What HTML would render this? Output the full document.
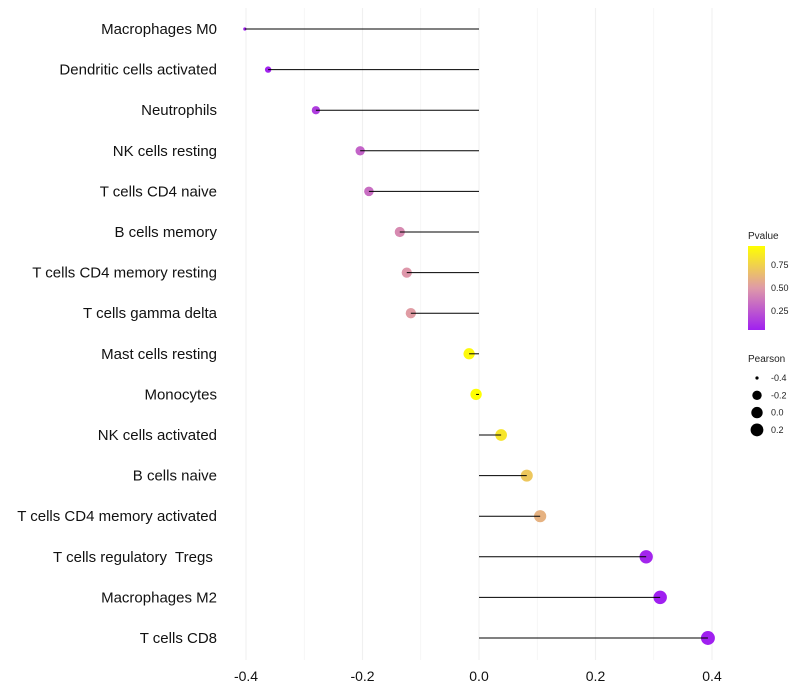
<!DOCTYPE html>
<html><head><meta charset="utf-8"><style>body{margin:0;background:#fff}svg{display:block;font-family:"Liberation Sans",sans-serif}text{white-space:pre}</style></head>
<body>
<svg id="c" width="800" height="700">
<defs><linearGradient id="pg" x1="0" y1="1" x2="0" y2="0"><stop offset="0" stop-color="#a020f0"/><stop offset="0.5" stop-color="#df9aa8"/><stop offset="1" stop-color="#ffff00"/></linearGradient></defs>
<g id="grid"></g><g id="pts"></g><g id="marks"></g><g id="axes"></g>
<g font-size="9" fill="#222">
<text x="748" y="239" font-size="10">Pvalue</text>
<rect x="748" y="246" width="17" height="84" fill="url(#pg)"/>
<text x="771" y="268">0.75</text>
<text x="771" y="291">0.50</text>
<text x="771" y="314">0.25</text>
<text x="748" y="362" font-size="10">Pearson</text>
<g id="sizeleg"></g>
</g>
</svg>
<script>
const cells=["Macrophages M0","Dendritic cells activated","Neutrophils","NK cells resting","T cells CD4 naive","B cells memory","T cells CD4 memory resting","T cells gamma delta","Mast cells resting","Monocytes","NK cells activated","B cells naive","T cells CD4 memory activated","T cells regulatory  Tregs ","Macrophages M2","T cells CD8"];
const pearson=[-0.402,-0.362,-0.280,-0.204,-0.189,-0.136,-0.124,-0.117,-0.017,-0.005,0.038,0.082,0.105,0.287,0.311,0.393];
const pvalue=[0.03,0.05,0.15,0.30,0.34,0.45,0.50,0.52,0.95,0.99,0.86,0.72,0.62,0.06,0.04,0.02];
const xticks=[-0.4,-0.2,0,0.2,0.4];
const xminor=[-0.3,-0.1,0.1,0.3];
const sizeLeg=[-0.4,-0.2,0.0,0.2];
const NS="http://www.w3.org/2000/svg";
const X=v=>479+v*582.5, Y=i=>29+i*40.6, R=v=>1.6+5.4*Math.pow(Math.max(0,(v+0.4)/0.8),0.4);
function col(p){const t=Math.max(0,Math.min(1,(p-0.04)/0.94));const a=[160,32,240],m=[223,154,168],b=[255,255,0];let c;
if(t<0.5){const s=t/0.5;c=a.map((v,k)=>v+(m[k]-v)*s);}else{const s=(t-0.5)/0.5;c=m.map((v,k)=>v+(b[k]-v)*s);}return `rgb(${c.map(Math.round)})`;}
function mk(tag,at,par){const e=document.createElementNS(NS,tag);for(const k in at)e.setAttribute(k,at[k]);par.appendChild(e);return e;}
const g=document.getElementById('grid'),m=document.getElementById('marks'),p=document.getElementById('pts'),ax=document.getElementById('axes');
xticks.concat(xminor).forEach(v=>{const l=mk('line',{x1:X(v),x2:X(v),y1:8,y2:660,stroke:'#f0f0f0','stroke-width':xticks.includes(v)?1.1:0.6},g);

});
xticks.forEach(v=>{const t=mk('text',{x:X(v),y:681,'text-anchor':'middle','font-size':14,fill:'#111'},ax);t.textContent=v===0?'0.0':v.toFixed(1);

});
cells.forEach((c,i)=>{const y=Y(i);
const t=mk('text',{x:217,y:y+5,'text-anchor':'end','font-size':15,fill:'#111'},ax);t.textContent=c;


const l=mk('line',{x1:X(0),x2:X(pearson[i]),y1:y,y2:y,stroke:'#000','stroke-width':1},m);


const d=mk('circle',{cx:X(pearson[i]),cy:y,r:R(pearson[i]),fill:col(pvalue[i])},p);

});
const sl=document.getElementById('sizeleg');
sizeLeg.forEach((v,i)=>{const y=378+i*17.3;
const d=mk('circle',{cx:757,cy:y,r:R(v),fill:'#000'},sl);


const t=mk('text',{x:771,y:y+3},sl);t.textContent=v.toFixed(1);

});
</script>
</body></html>
